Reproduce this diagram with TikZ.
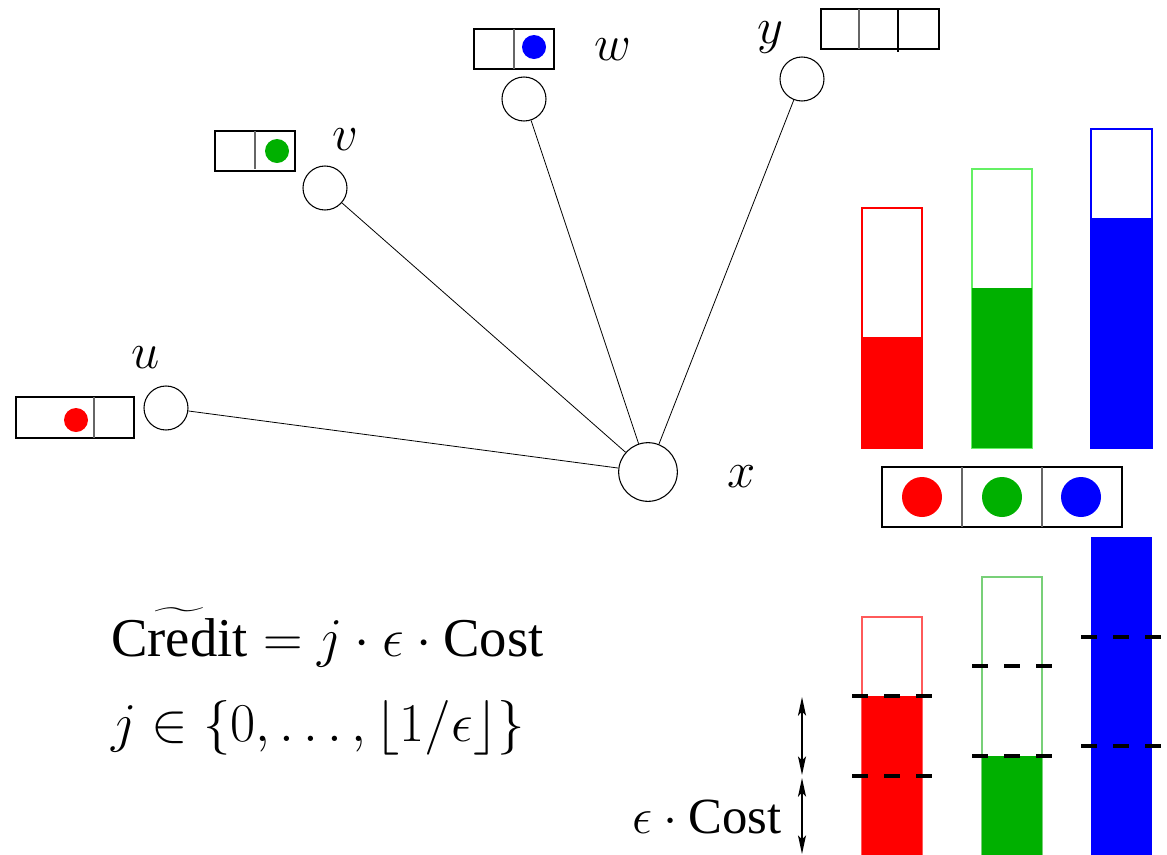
\RequirePackage{fix-cm}
\documentclass[tikz,border=0pt]{standalone}
\usepackage{amsmath}
\usepackage[no-math]{fontspec}
\setmainfont{Liberation Serif}
\usetikzlibrary{arrows.meta}
\definecolor{cred}{RGB}{255,0,0}
\definecolor{cgreen}{RGB}{0,176,0}
\definecolor{cblue}{RGB}{0,0,255}
\definecolor{lgreen}{RGB}{100,240,100}
\definecolor{mgreen}{RGB}{120,208,120}
\definecolor{lred}{RGB}{255,90,90}
\tikzset{
  vert/.style={circle,draw,line width=0.8pt,minimum size=33pt,inner sep=0pt},
  bigvert/.style={circle,draw,line width=0.8pt,minimum size=44pt,inner sep=0pt},
  edge/.style={line width=0.6pt},
  lbl/.style={anchor=base,inner sep=0pt,font=\fontsize{38}{44}\selectfont},
  cellbox/.style={draw,line width=0.8pt},
  celldiv/.style={draw=black!60,line width=0.8pt},
  tok/.style={circle,fill,inner sep=0pt,minimum size=18pt},
  bigtok/.style={circle,fill,inner sep=0pt,minimum size=30pt},
  level/.style={line width=3pt,dash pattern=on 12pt off 12pt},
  dimarrow/.style={line width=1.2pt,{Stealth[length=14pt,width=6pt,inset=3pt]}-{Stealth[length=14pt,width=6pt,inset=3pt]}},
  steplabel/.style={anchor=base east,inner sep=0pt,font=\fontsize{38}{44}\selectfont},
  formula/.style={anchor=base west,inner sep=0pt,font=\fontsize{41}{48}\selectfont}
}
\begin{document}
\begin{tikzpicture}[x=0.75pt,y=-0.75pt]
\useasboundingbox (0,0) rectangle (1167,854);

% graph vertices
\node[vert] (u) at (166,408) {};
\node[vert] (v) at (325,188) {};
\node[vert] (w) at (524,99) {};
\node[vert] (y) at (802,79) {};
\node[bigvert] (x) at (648,472) {};

\node[lbl] (lu) at (146,368) {$u$};
\node[lbl] (lv) at (345,150) {$v$};
\node[lbl] (lw) at (613,60) {$w$};
\node[lbl] (ly) at (770,43) {$y$};
\node[lbl] (lx) at (742,487) {$x$};

\draw[edge] (u) -- (x);
\draw[edge] (v) -- (x);
\draw[edge] (w) -- (x);
\draw[edge] (y) -- (x);

% token arrays next to the vertices
\draw[cellbox] (16,397) rectangle (134,438);
\draw[celldiv] (94,397) -- (94,438);
\node[tok,cred] (tu) at (76,420) {};

\draw[cellbox] (215,131) rectangle (295,171);
\draw[celldiv] (255,131) -- (255,169);
\node[tok,cgreen] (tv) at (277,151) {};

\draw[cellbox] (474,29) rectangle (554,69);
\draw[celldiv] (514,29) -- (514,69);
\node[tok,cblue] (tw) at (534,47) {};

\draw[cellbox] (821,9) rectangle (939,49);
\draw[celldiv] (859,9) -- (859,49);
\draw[cellbox] (898,9) -- (898,52);

% upper credit bars
\draw[cred,line width=0.8pt] (862,208) rectangle (922,448);
\fill[cred] (862,337) rectangle (922,448);
\draw[lgreen,line width=0.8pt] (972,169) rectangle (1032,448);
\fill[cgreen] (972,288) rectangle (1032,448);
\draw[cblue,line width=0.8pt] (1091,129) rectangle (1152,448);
\fill[cblue] (1091,218) rectangle (1152,448);

% colour array at x
\draw[cellbox] (882,467) rectangle (1122,527);
\draw[celldiv] (962,467) -- (962,527);
\draw[celldiv] (1042,467) -- (1042,527);
\node[bigtok,cred] (t1) at (922,497) {};
\node[bigtok,cgreen] (t2) at (1002,497) {};
\node[bigtok,cblue] (t3) at (1081,497) {};

% lower credit bars, rounded to multiples of eps*Cost
\draw[lred,line width=0.8pt] (862,617) rectangle (922,860);
\fill[cred] (862,696) rectangle (922,860);
\draw[mgreen,line width=0.8pt] (982,577) rectangle (1042,860);
\fill[cgreen] (982,756) rectangle (1042,860);
\fill[cblue] (1091,537) rectangle (1152,860);

\draw[level] (852,696) -- (932,696);
\draw[level] (852,776) -- (932,776);
\draw[level] (972,666) -- (1052,666);
\draw[level] (972,756) -- (1052,756);
\draw[level] (1081,637) -- (1161,637);
\draw[level] (1081,746) -- (1161,746);

% step size markers
\coordinate (s0) at (802,697);
\coordinate (s1) at (802,775);
\coordinate (s2) at (802,778);
\coordinate (s3) at (802,854);
\draw[dimarrow] (s0) -- (s1);
\draw[dimarrow] (s2) -- (s3);
\node[steplabel] (step) at (782,833) {$\epsilon\cdot\text{Cost}$};

% rounding rule
\node[formula] (f1) at (111,656) {$\widetilde{\text{Credit}} = j\cdot\epsilon\cdot\text{Cost}$};
\node[formula] (f2) at (111,741) {$j\in\{0,\ldots,\lfloor 1/\epsilon\rfloor\}$};
\end{tikzpicture}
\end{document}
